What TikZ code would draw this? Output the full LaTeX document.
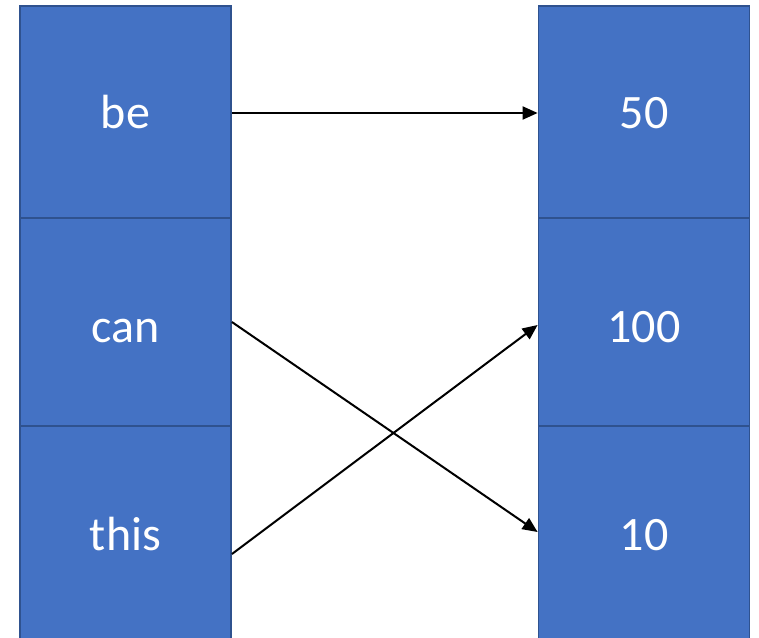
\documentclass[tikz,border=0pt]{standalone}
\usepackage{fontspec}
\setmainfont{Carlito}
\usetikzlibrary{arrows.meta,calc}
\definecolor{cellfill}{HTML}{4472C4}
\definecolor{celledge}{HTML}{2F528F}
\begin{document}
\begin{tikzpicture}[x=1pt,y=-1pt,
  cell/.style={draw=celledge,fill=cellfill,line width=1.8pt,rectangle,inner sep=0pt,
    minimum width=211pt,minimum height=208pt},
  topcell/.style={cell,minimum height=212pt},
  tallcell/.style={cell,minimum height=230pt},
  celltext/.style={anchor=base,text=white,font=\fontsize{48}{48}\selectfont,inner sep=0pt},
  link/.style={line width=2pt,-{Triangle[length=15pt,width=13pt]}}]
\useasboundingbox (0,0) rectangle (759,637);
\clip (0,0) rectangle (759,637);
% left column
\node[topcell] (lbe) at (125.5,112) {};
\node[cell] (lcan) at (125.5,322) {};
\node[tallcell] (lthis) at (125.5,541) {};
% right column
\node[topcell] (rfifty) at (644,112) {};
\node[cell] (rhundred) at (644,322) {};
\node[tallcell] (rten) at (644,541) {};
% labels
\node[celltext] (tbe) at (125.5,128) {be};
\node[celltext] (tcan) at (125.5,342) {can};
\node[celltext] (tthis) at (125.5,550) {this};
\node[celltext] (tfifty) at (644,128) {50};
\node[celltext] (thundred) at (644,342) {100};
\node[celltext] (tten) at (644,550) {10};
% mappings
\draw[link] ([yshift=-1pt]lbe.east) -- ([yshift=-1pt]rfifty.west);
\draw[link] (lcan.east) -- ([yshift=9pt]rten.west);
\draw[link] ([yshift=-13pt]lthis.east) -- ([yshift=-3pt]rhundred.west);
\end{tikzpicture}
\end{document}
